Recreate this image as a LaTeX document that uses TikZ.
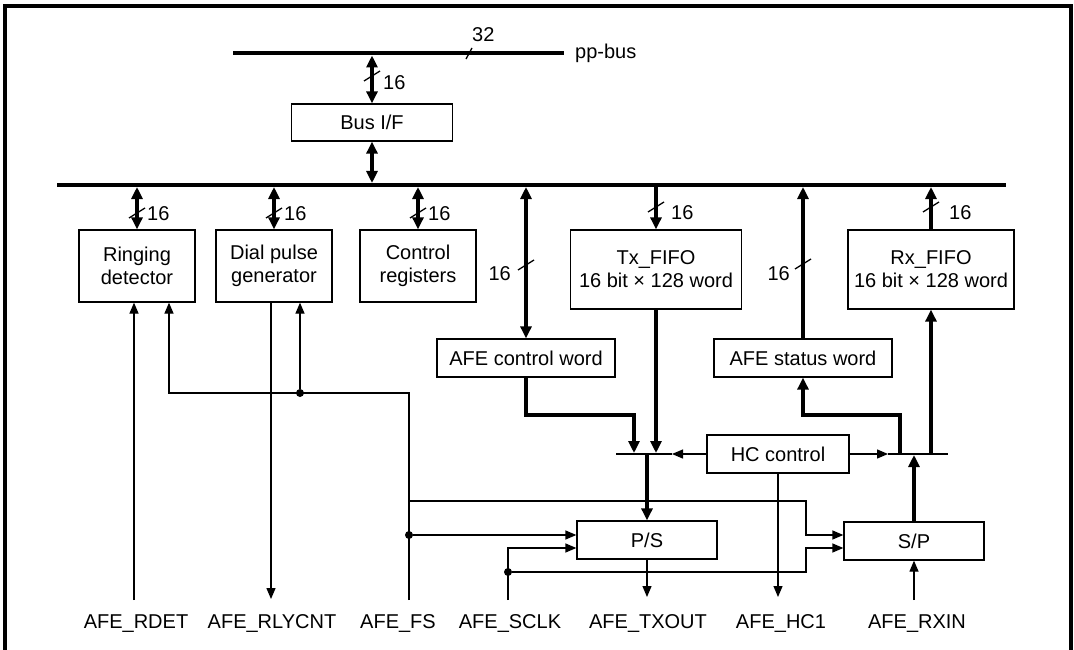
\documentclass[tikz,border=0pt]{standalone}
\usepackage{fontspec}
\setmainfont{Liberation Sans}
\usetikzlibrary{arrows.meta}
\newcommand\mkslash[2]{\draw[thinl] (#1-8,#2+5) -- (#1+8,#2-5);}
\begin{document}
\begin{tikzpicture}[x=1pt,y=-1pt,
  font=\fontsize{20}{23}\selectfont,
  thinl/.style={line width=1.3pt},
  thk/.style={line width=3.8pt},
  ta/.style={thinl,-{Triangle[length=11pt,width=9pt]}},
  ka/.style={thk,-{Triangle[length=12pt,width=11pt]}},
  kaa/.style={thk,{Triangle[length=12pt,width=11pt]}-{Triangle[length=12pt,width=11pt]}},
  box/.style={draw,line width=1.3pt,inner sep=0pt,align=center},
  dot/.style={circle,fill,inner sep=0pt,minimum size=8pt},
  lab/.style={anchor=base,inner sep=0pt}
]
\useasboundingbox (0,0) rectangle (1074,650);
\draw[line width=3.5pt] (5,660) -- (5,6) -- (1071,6) -- (1071,660);

% boxes
\node[box,minimum width=161pt,minimum height=37pt] (busif) at (372,122.5) {Bus I/F};
\node[box,minimum width=116pt,minimum height=72pt] (ring) at (137,266) {Ringing\\detector};
\node[box,minimum width=116pt,minimum height=72pt] (dial) at (274,266) {Dial pulse\\generator};
\node[box,minimum width=116pt,minimum height=72pt] (ctrl) at (418,266) {Control\\registers};
\node[box,minimum width=171pt,minimum height=79pt] (tx) at (656,269.5) {Tx\_FIFO\\16 bit × 128 word};
\node[box,minimum width=166pt,minimum height=79pt] (rx) at (931,269.5) {Rx\_FIFO\\16 bit × 128 word};
\node[box,minimum width=178pt,minimum height=38pt] (acw) at (526,358) {AFE control word};
\node[box,minimum width=178pt,minimum height=38pt] (asw) at (803,358) {AFE status word};
\node[box,minimum width=142pt,minimum height=38pt] (hc) at (778,454) {HC control};
\node[box,minimum width=140pt,minimum height=38pt] (ps) at (647,540) {P/S};
\node[box,minimum width=140pt,minimum height=38pt] (sp) at (914,541) {S/P};

% buses
\coordinate (ppA) at (233,53); \coordinate (ppB) at (564,53);
\draw[line width=4pt] (ppA) -- (ppB);
\coordinate (mbA) at (57,185); \coordinate (mbB) at (1006,185);
\draw[line width=4pt] (mbA) -- (mbB);
\coordinate (ppbot) at (0,55.5);
\coordinate (mbtop) at (0,183);
\coordinate (mbbot) at (0,187);

\node[lab,anchor=base west] (pplab) at (575,59) {pp-bus};
\node[lab,anchor=base west] (n32) at (472,42) {32};
\draw[thinl] (466,59) -- (472,48);

\draw[kaa] (busif.north) -- (busif.north |- ppbot);
\mkslash{372}{76}
\node[lab,anchor=base west] at (383,90) {16};
\draw[kaa] (busif.south) -- (busif.south |- mbtop);

\draw[kaa] (ring.north) -- (ring.north |- mbbot);
\draw[kaa] (dial.north) -- (dial.north |- mbbot);
\draw[kaa] (ctrl.north) -- (ctrl.north |- mbbot);
\mkslash{137}{213}\mkslash{274}{213}\mkslash{418}{213}
\node[lab,anchor=base west] at (147,220) {16};
\node[lab,anchor=base west] at (284,220) {16};
\node[lab,anchor=base west] at (428,220) {16};

\draw[ka] (tx.north |- mbbot) -- (tx.north);
\draw[ka] (rx.north) -- (rx.north |- mbbot);
\mkslash{656}{207}\mkslash{931}{207}
\node[lab,anchor=base west] at (671,219) {16};
\node[lab,anchor=base west] at (949,219) {16};

\draw[kaa] (acw.north) -- (acw.north |- mbbot);
\draw[ka] (asw.north) -- (asw.north |- mbbot);
\mkslash{526}{265}\mkslash{803}{264}
\node[lab,anchor=base east] at (511,280) {16};
\node[lab,anchor=base east] at (790,280) {16};

% muxes
\coordinate (mxL1) at (616,454); \coordinate (mxL2) at (672,454);
\draw[thinl] (mxL1) -- (mxL2);
\draw[ta] (hc.west) -- (mxL2);
\coordinate (mxR1) at (888,454); \coordinate (mxR2) at (948,454);
\draw[thinl] (mxR1) -- (mxR2);
\draw[ta] (hc.east) -- (mxR1);
\coordinate (mt) at (0,453);
\coordinate (mb2) at (0,455);

\draw[ka] (tx.south) -- (tx.south |- mt);
\coordinate (acwbend) at (634,415); \coordinate (acwin) at (634,453);
\draw[ka] (acw.south) |- (acwbend) -- (acwin);
\draw[ka] (ps.north |- mb2) -- (ps.north);
\draw[ka] (sp.north) -- (sp.north |- mb2);
\draw[ka] (rx.south |- mt) -- (rx.south);
\coordinate (swup) at (900,453); \coordinate (swbend) at (803,415);
\draw[ka] (swup) |- (swbend) -- (asw.south);

% outputs / inputs
\coordinate (outy) at (0,597);
\coordinate (iny) at (0,600);
\draw[ta] (ps.south) -- (ps.south |- outy);
\draw[ta] (hc.south) -- (hc.south |- outy);
\draw[ta] (sp.south |- iny) -- (sp.south);

% left wiring
\coordinate (rdet) at (134,600);
\draw[ta] (rdet) -- (rdet |- ring.south);
\coordinate (fs) at (409,600); \coordinate (fsT) at (409,393); \coordinate (rin2) at (169,393);
\draw[ta] (fs) -- (fsT) -- (rin2) -- (rin2 |- ring.south);
\node[dot] (d1) at (300,393) {};
\draw[ta] (d1) -- (d1 |- dial.south);
\coordinate (rly) at (271,599);
\draw[ta] (rly |- dial.south) -- (rly);
\node[dot] (d2) at (409,535) {};
\draw[ta] (d2) -- (d2 -| ps.west);
\coordinate (fsb) at (409,501); \coordinate (jx1) at (806,501); \coordinate (jx2) at (806,535);
\draw[ta] (fsb) -- (jx1) -- (jx2) -- (jx2 -| sp.west);
\coordinate (sclk) at (508,600); \coordinate (sclkT) at (508,548);
\draw[ta] (sclk) -- (sclkT) -- (sclkT -| ps.west);
\node[dot] (d3) at (508,572) {};
\coordinate (jx3) at (806,572); \coordinate (jx4) at (806,548);
\draw[ta] (d3) -- (jx3) -- (jx4) -- (jx4 -| sp.west);

% bottom labels
\node[lab] (l1) at (136,628) {AFE\_RDET};
\node[lab] (l2) at (272,628) {AFE\_RLYCNT};
\node[lab] (l3) at (398,628) {AFE\_FS};
\node[lab] (l4) at (510,628) {AFE\_SCLK};
\node[lab] (l5) at (648,628) {AFE\_TXOUT};
\node[lab] (l6) at (781,628) {AFE\_HC1};
\node[lab] (l7) at (917,628) {AFE\_RXIN};
\end{tikzpicture}
\end{document}
